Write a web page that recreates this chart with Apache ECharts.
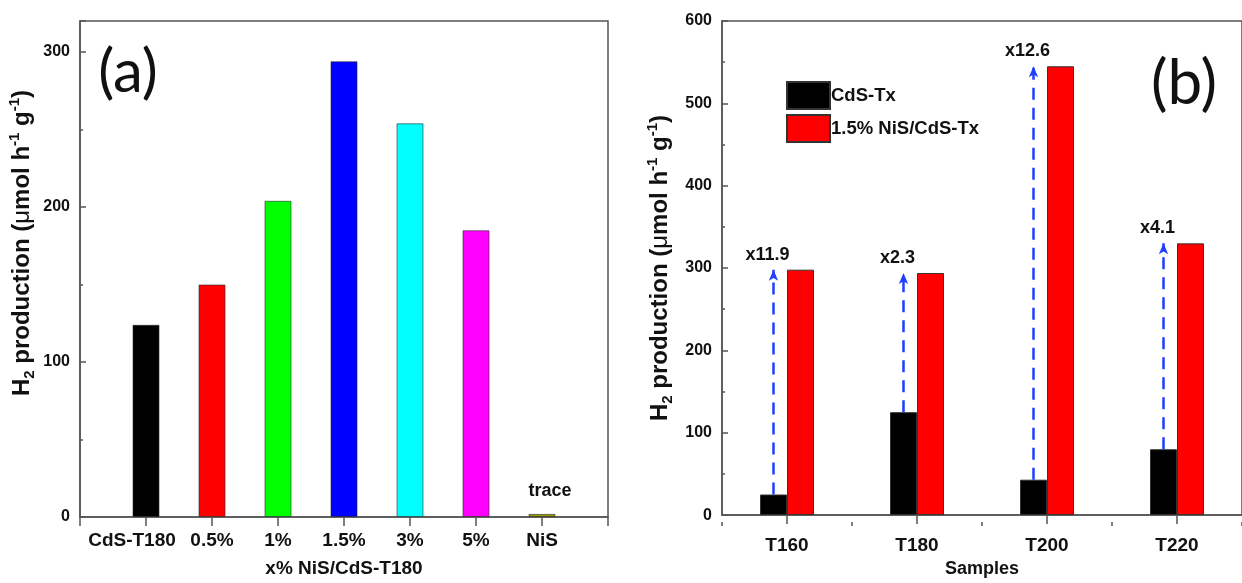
<!DOCTYPE html>
<html><head><meta charset="utf-8">
<script src="https://cdn.jsdelivr.net/npm/echarts@6/dist/echarts.min.js"></script>
<style>html,body{margin:0;padding:0;background:#fff}#c{width:1242px;height:583px}</style>
</head><body><div id="c"></div>
<script>
// ---- data: panel (a) ----
const leftCategories = ['', 'CdS-T180', '0.5%', '1%', '1.5%', '3%', '5%', 'NiS', ''];
const leftValues = [null, 124, 150, 204, 294, 254, 185, 2, null];
const leftNotes = ['', '', '', '', '', '', '', 'trace', ''];
const leftYTicks = [0, 100, 200, 300];
// ---- data: panel (b) ----
const rightCategories = ['T160', 'T180', 'T200', 'T220'];
const cdsValues = [25, 125, 43, 80];
const nisValues = [298, 294, 545, 330];
const enhancementLabels = ['x11.9', 'x2.3', 'x12.6', 'x4.1'];
const seriesNames = ['CdS-Tx', '1.5% NiS/CdS-Tx'];
const rightYTicks = [0, 100, 200, 300, 400, 500, 600];
const yTitle = '{b|H}{s|2}{b| production (}{m|μ}{b|mol h}{p|-1}{b| g}{p|-1}{b|)}';

// ---- styles ----
const leftBarColors = [null, '#000000', '#ff0000', '#00ff00', '#0000ff', '#00ffff', '#ff00ff', '#9a9a00', null];
const SANS = "'Liberation Sans', Arial, sans-serif";
const AX = '#555';
const chart = echarts.init(document.getElementById('c'), null, {renderer: 'canvas'});

const titleRich = {
  b: {fontFamily: SANS, fontWeight: 'bold', fontSize: 24, lineHeight: 30, fill: '#111'},
  m: {fontFamily: SANS, fontWeight: 'normal', fontSize: 24, lineHeight: 30, fill: '#111'},
  s: {fontFamily: SANS, fontWeight: 'bold', fontSize: 15, lineHeight: 14, verticalAlign: 'bottom', fill: '#111'},
  p: {fontFamily: SANS, fontWeight: 'bold', fontSize: 15, lineHeight: 14, verticalAlign: 'top', fill: '#111'}
};

function yAxisBase(max, ticks, gridIndex) {
  return {
    type: 'value', gridIndex, min: 0, max, interval: 100,
    axisLine: {show: true, lineStyle: {color: AX, width: 1.5}},
    axisTick: {show: true, inside: true, length: 6, lineStyle: {color: AX, width: 1.5}},
    minorTick: {show: true, splitNumber: 2, length: 3, lineStyle: {color: AX, width: 1.5}},
    splitLine: {show: false},
    axisLabel: {
      margin: 10, fontFamily: SANS, fontWeight: 'bold', fontSize: 16, color: '#111',
      formatter: v => ticks.indexOf(v) >= 0 ? String(v) : ''
    }
  };
}

const option = {
  animation: false,
  backgroundColor: '#fff',
  grid: [
    {left: 80, top: 21, right: 634, bottom: 62, show: true, borderColor: AX, borderWidth: 1.5},
    {left: 722, top: 21, right: -11, bottom: 61, show: true, borderColor: AX, borderWidth: 1.5},
    {left: 722, top: 21, right: -11, bottom: 61, show: false}
  ],
  legend: {
    data: seriesNames, orient: 'vertical', left: 781, top: 76,
    itemWidth: 43, itemHeight: 27, itemGap: 4, icon: 'rect',
    textStyle: {fontFamily: SANS, fontWeight: 'bold', fontSize: 18.5, color: '#111', padding: [0, 0, 0, -4]}
  },
  xAxis: [
    {
      type: 'category', gridIndex: 0, data: leftCategories, boundaryGap: false,
      name: 'x% NiS/CdS-T180', nameLocation: 'middle', nameGap: 42,
      nameTextStyle: {fontFamily: SANS, fontWeight: 'bold', fontSize: 19, color: '#111'},
      axisLine: {lineStyle: {color: AX, width: 1.5}},
      axisTick: {show: true, interval: 0, length: 9, lineStyle: {color: AX, width: 1.5}},
      axisLabel: {interval: 0, margin: 14, fontFamily: SANS, fontWeight: 'bold', fontSize: 19, color: '#111',
        formatter: (v, i) => i === 1 ? '{shift|' + v + '}' : v,
        rich: {shift: {fontFamily: SANS, fontWeight: 'bold', fontSize: 19, color: '#111', padding: [0, 28, 0, 0]}}}
    },
    {
      type: 'category', gridIndex: 1, data: rightCategories,
      name: 'Samples', nameLocation: 'middle', nameGap: 41,
      nameTextStyle: {fontFamily: SANS, fontWeight: 'bold', fontSize: 18, color: '#111'},
      axisLine: {lineStyle: {color: AX, width: 1.5}},
      axisTick: {show: true, alignWithLabel: true, length: 9, lineStyle: {color: AX, width: 1.5}},
      axisLabel: {margin: 21, fontFamily: SANS, fontWeight: 'bold', fontSize: 19, color: '#111'}
    },
    {
      type: 'category', gridIndex: 2, data: rightCategories,
      axisLine: {show: false},
      axisTick: {show: true, length: 4, lineStyle: {color: AX, width: 1.5}},
      axisLabel: {show: false}
    }
  ],
  yAxis: [
    yAxisBase(320, leftYTicks, 0),
    yAxisBase(600, rightYTicks, 1),
    {type: 'value', gridIndex: 2, min: 0, max: 600, show: false}
  ],
  series: [
    {
      type: 'bar', name: 'panel-a', xAxisIndex: 0, yAxisIndex: 0, barWidth: 27,
      data: leftValues.map((v, i) => ({
        value: v,
        itemStyle: {color: leftBarColors[i], borderColor: 'rgba(40,40,40,0.6)', borderWidth: 1},
        label: leftNotes[i] ? {show: true, position: 'top', distance: 14, offset: [8, 0], formatter: leftNotes[i],
          fontFamily: SANS, fontWeight: 'bold', fontSize: 18, color: '#111'} : {show: false}
      }))
    },
    {
      type: 'bar', name: seriesNames[0], xAxisIndex: 1, yAxisIndex: 1, barWidth: 27, barGap: '0%',
      itemStyle: {color: '#000', borderColor: '#333', borderWidth: 1},
      data: cdsValues,
      markLine: {
        silent: true, symbol: ['none', 'arrow'], symbolSize: [7, 11],
        lineStyle: {color: '#1f3fff', width: 2.5, type: [12, 8]},
        label: {show: true, position: 'end', distance: 6, offset: [-6, 0], formatter: '{b}',
          fontFamily: SANS, fontWeight: 'bold', fontSize: 18, color: '#111'},
        emphasis: {disabled: true},
        data: rightCategories.map((c, i) => [
          {name: enhancementLabels[i], coord: [c, cdsValues[i]]},
          {coord: [c, nisValues[i]]}
        ])
      }
    },
    {
      type: 'bar', name: seriesNames[1], xAxisIndex: 1, yAxisIndex: 1, barWidth: 27, barGap: '0%',
      itemStyle: {color: '#ff0000', borderColor: '#333', borderWidth: 1},
      data: nisValues
    }
  ],
  graphic: [
    {type: 'text', x: 22, y: 243, rotation: Math.PI / 2,
      style: {text: yTitle, rich: titleRich, align: 'center', verticalAlign: 'middle'}},
    {type: 'text', x: 660, y: 268, rotation: Math.PI / 2,
      style: {text: yTitle, rich: titleRich, align: 'center', verticalAlign: 'middle'}},
    {type: 'text', x: 128, y: 73, style: {text: '(a)', align: 'center', verticalAlign: 'middle',
      font: "normal 60px Lato, 'Open Sans', sans-serif", fill: '#111'}},
    {type: 'text', x: 1184, y: 84, style: {text: '(b)', align: 'center', verticalAlign: 'middle',
      font: "normal 62px Lato, 'Open Sans', sans-serif", fill: '#111'}}
  ]
};
chart.setOption(option);
</script>
</body></html>
